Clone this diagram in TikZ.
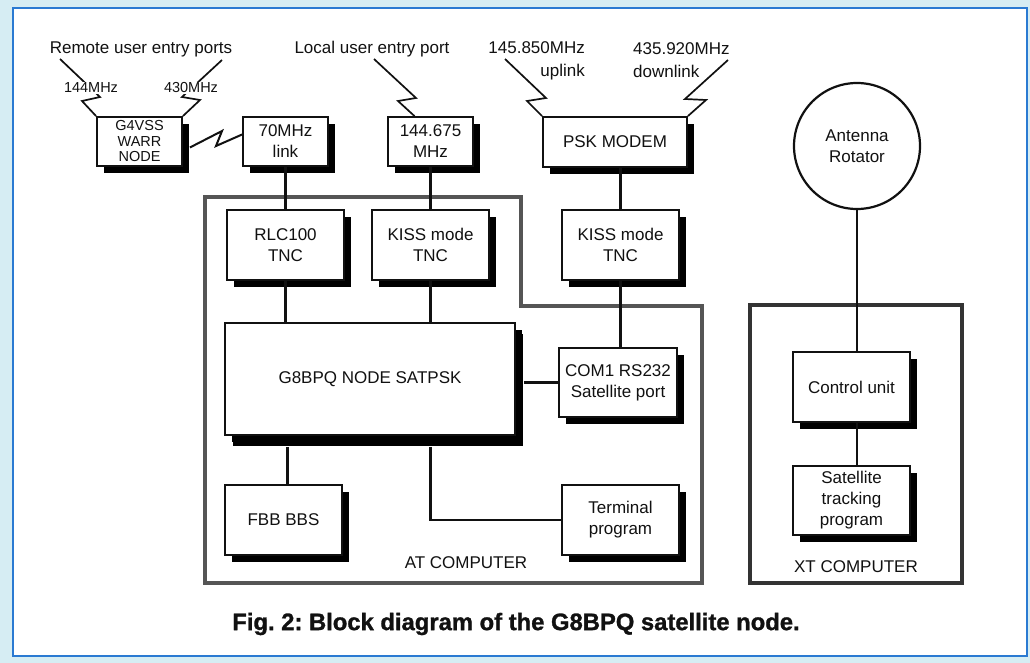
\documentclass[tikz,border=0pt]{standalone}
\usepackage{fontspec}
\setmainfont{Liberation Sans}
\newfontfamily\capfont[FakeBold=1.2]{Liberation Sans Bold}
\usetikzlibrary{shadows,calc}
\definecolor{bgc}{HTML}{D6EDF3}
\definecolor{bluec}{HTML}{2A7AD2}
\definecolor{ink}{HTML}{111111}
\definecolor{atgray}{HTML}{555555}
\definecolor{xtgray}{HTML}{333333}
\begin{document}
\begin{tikzpicture}[x=1pt,y=-1pt,
  blk/.style={draw=ink, fill=white, line width=1.8pt, inner sep=0pt, align=center,
    font=\fontsize{17}{21}\selectfont, text=ink,
    drop shadow={shadow xshift=7pt, shadow yshift=-7pt, fill=black, opacity=1}},
  small/.style={font=\fontsize{14.5}{15.5}\selectfont},
  lbl/.style={font=\fontsize{17}{23}\selectfont, text=ink, inner sep=1pt},
  flbl/.style={font=\fontsize{14.5}{16}\selectfont, text=ink, fill=white, inner sep=1pt},
  conn/.style={draw=ink, line width=2.4pt},
  ant/.style={draw=ink, line width=1.7pt, line join=miter},
  outline/.style={line width=4pt}]
\useasboundingbox (0,0) rectangle (1030,663);
\fill[bgc] (0,0) rectangle (1030,663);
\draw[bluec, fill=white, line width=2pt] (13,8) rectangle (1027,656);

% computer outlines
\draw[outline, draw=atgray] (205,197) -- (521,197) -- (521,306) -- (702,306) -- (702,583) -- (205,583) -- cycle;
\draw[outline, draw=xtgray] (750,305) rectangle (962,583);

% blocks
\node[blk, small, minimum width=85pt, minimum height=49pt] (g4vss) at (139.5,141.5) {G4VSS\\WARR\\NODE};
\node[blk, minimum width=85pt, minimum height=49pt] (link70) at (285.5,141.5) {70MHz\\link};
\node[blk, minimum width=85pt, minimum height=49pt] (m144) at (430.5,141.5) {144.675\\MHz};
\node[blk, minimum width=144pt, minimum height=50pt] (psk) at (615,142) {PSK MODEM};
\node[blk, minimum width=117pt, minimum height=70pt] (rlc) at (285.5,245) {RLC100\\TNC};
\node[blk, minimum width=117pt, minimum height=70pt] (kiss1) at (430.5,245) {KISS mode\\TNC};
\node[blk, minimum width=117pt, minimum height=70pt] (kiss2) at (620.5,245) {KISS mode\\TNC};
\node[blk, minimum width=290pt, minimum height=112pt,
  drop shadow={shadow xshift=8pt, shadow yshift=-11pt, fill=black, opacity=1}] (g8) at (370,379) {G8BPQ NODE SATPSK};
\node[blk, minimum width=118pt, minimum height=69pt] (com1) at (618,382.5) {COM1 RS232\\Satellite port};
\node[blk, minimum width=117pt, minimum height=70pt] (fbb) at (283.5,520) {FBB BBS};
\node[blk, minimum width=117pt, minimum height=70pt] (term) at (620.5,520) {Terminal\\program};
\node[blk, minimum width=117pt, minimum height=70pt] (ctrl) at (851.5,387) {Control unit};
\node[blk, minimum width=117pt, minimum height=69pt] (track) at (851.5,500.5) {Satellite\\tracking\\program};
\node[draw=ink, line width=2.2pt, circle, fill=white, minimum size=126pt, inner sep=0pt, align=center,
  font=\fontsize{17}{21}\selectfont, text=ink] (rot) at (857,146) {Antenna\\Rotator};

% connectors
\draw[conn] (link70.south) -- (rlc.north);
\draw[conn] (m144.south) -- (kiss1.north);
\draw[conn] (kiss2.north |- psk.south) -- (kiss2.north);
\draw[conn] (rlc.south) -- (rlc.south |- g8.north);
\draw[conn] (kiss1.south) -- (kiss1.south |- g8.north);
\draw[conn] (kiss2.south) -- (kiss2.south |- com1.north);
\draw[conn] ($(com1.west -| g8.east)+(8,0)$) -- (com1.west);
\draw[conn] ($(fbb.north |- g8.south)+(4,11)$) -- ($(fbb.north)+(4,0)$);
\draw[conn] ($(kiss1.south |- g8.south)+(0,11)$) |- (term.west);
\draw[conn] (rot.south) -- (rot.south |- ctrl.north);
\draw[conn] (rot.south |- ctrl.south) -- (rot.south |- track.north);
\draw[ant, line width=2pt] ($(g4vss.east)+(7,6)$) -- (222,131) -- (216,146) -- ($(link70.west)+(0,-7)$);

% antenna labels and lines
\node[lbl] (remote) at (141,49) {Remote user entry ports};
\node[lbl] (local) at (372,49) {Local user entry port};
\node[lbl, align=right, anchor=east] (up) at (586,60.5) {145.850MHz\\uplink};
\node[lbl, align=left, anchor=west] (down) at (632,60.5) {435.920MHz\\downlink};
\coordinate (r1) at (60,59);
\coordinate (r2) at (222,60);
\coordinate (l1) at (374,59);
\coordinate (u1) at (505,59);
\coordinate (d1) at (728,60);
\draw[ant] (r1) -- (100,97) -- (82,101) -- (g4vss.north west);
\draw[ant] (r2) -- (182,97) -- (200,100) -- (g4vss.north east);
\draw[ant] (l1) -- (416,98) -- (398,101) -- ($(m144.north)+(-16,0)$);
\draw[ant] (u1) -- (546,98) -- (527,101) -- (psk.north west);
\draw[ant] (d1) -- (685,99) -- (706,100) -- (psk.north east);
\node[flbl] (f144) at (91,88) {144MHz};
\node[flbl] (f430) at (191,88) {430MHz};

% computer labels
\node[lbl] (atlbl) at (466,563) {AT COMPUTER};
\node[lbl] (xtlbl) at (856,567) {XT COMPUTER};

% caption
\node[text=ink, font=\fontsize{23.8}{27}\capfont] (cap) at (516,624) {Fig.\ 2:\ Block diagram of the G8BPQ satellite node.};
\end{tikzpicture}
\end{document}
